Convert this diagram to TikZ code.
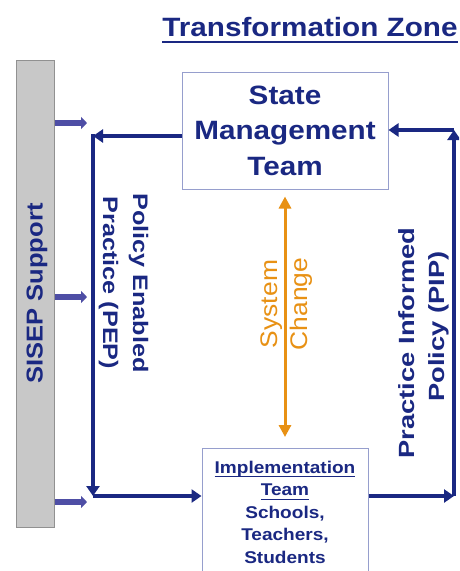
\documentclass[tikz,border=0pt]{standalone}
\usepackage{fontspec}
\setmainfont{Liberation Sans}
\usepackage{graphicx}
\usetikzlibrary{arrows.meta}
\definecolor{navy}{RGB}{26,40,130}
\definecolor{boxline}{RGB}{150,158,205}
\definecolor{barfill}{RGB}{200,200,200}
\definecolor{barline}{RGB}{145,145,145}
\definecolor{sysorange}{RGB}{232,145,20}
\definecolor{fatblue}{RGB}{78,78,165}
\newcommand\ulbox[3]{\leavevmode\setbox0\hbox{#3}\rlap{\rule[-#1]{\wd0}{#2}}\box0}
\newcommand\sx[2]{\scalebox{#1}[1]{#2}}
\begin{document}
\begin{tikzpicture}[x=1pt,y=-1pt,
  box/.style={draw=boxline, line width=1pt, fill=white, text=navy},
  conn/.style={draw=navy, line width=3.5pt, -{Triangle[length=10pt,width=13pt]}},
  fat/.style={draw=fatblue, line width=5.5pt, -{Triangle[length=6pt,width=12pt]}},
  sys/.style={draw=sysorange, line width=3pt, {Triangle[length=12pt,width=12pt]}-{Triangle[length=12pt,width=12pt]}},
  lbl/.style={text=navy, inner sep=0pt, align=center}]
\useasboundingbox (0,0) rectangle (459,571);
\clip (0,0) rectangle (459,571);
\fill[white] (0,0) rectangle (459,571);

\node[lbl, font=\fontsize{26.5}{32}\selectfont\bfseries, anchor=base] (title) at (310,36)
  {\sx{1.12}{\ulbox{6.5pt}{2pt}{Transformation Zone}}};

\node[draw=barline, fill=barfill, line width=1pt, minimum width=38pt, minimum height=467pt,
  inner sep=0pt, text=navy, font=\fontsize{23}{28}\selectfont\bfseries] (sisep) at (35,293.5)
  {\hspace*{4pt}\rotatebox{90}{\sx{1.11}{SISEP Support}}};

\node[box, minimum width=206pt, minimum height=117pt, align=center,
  font=\fontsize{26.5}{35.5}\selectfont\bfseries] (smt) at (285,130.5)
  {\sx{1.12}{State}\\\sx{1.12}{Management}\\\sx{1.12}{Team}};

\node[box, anchor=north, minimum width=166pt, inner ysep=12.6pt, align=center,
  font=\fontsize{17}{22.5}\selectfont\bfseries] (it) at (285,448)
  {\sx{1.12}{\ulbox{4pt}{1.3pt}{Implementation}}\\\sx{1.12}{\ulbox{4pt}{1.3pt}{Team}}\\\sx{1.12}{Schools,}\\\sx{1.12}{Teachers,}\\\sx{1.12}{Students}};

\coordinate (c1) at (93,136);
\coordinate (c2) at (93,496);
\coordinate (c3) at (454,496);
\coordinate (c4) at (454,130);
\coordinate (f1) at (87,123);
\coordinate (f2) at (87,297);
\coordinate (f3) at (87,502);

\draw[conn] (smt.west |- c1) -- (c1);
\draw[conn, line cap=rect] (c1) -- (c2);
\draw[conn] (c2) -- (c2 -| it.west);
\draw[conn] (it.east |- c3) -- (c3);
\draw[conn] (c3) -- (c4);
\draw[conn] (c4) -- (c4 -| smt.east);

\draw[sys, shorten <=7pt, shorten >=11pt] (smt) -- (it);

\draw[fat] (sisep.east |- f1) -- (f1);
\draw[fat] (sisep.east |- f2) -- (f2);
\draw[fat] (sisep.east |- f3) -- (f3);

\node[lbl, rotate=-90, font=\fontsize{21}{30}\selectfont\bfseries] (pep) at (123.5,283)
  {\sx{1.2}{Policy Enabled}\\\sx{1.2}{Practice (PEP)}};
\node[lbl, rotate=90, text=sysorange, font=\fontsize{24}{30}\selectfont] (sc) at (286.6,304)
  {\sx{1.1}{System}\\\sx{1.1}{Change}};
\node[lbl, rotate=90, font=\fontsize{22}{30}\selectfont\bfseries] (pip) at (424.3,343)
  {\sx{1.24}{Practice Informed}\\\hspace*{33pt}\sx{1.24}{Policy (PIP)}};
\end{tikzpicture}
\end{document}
